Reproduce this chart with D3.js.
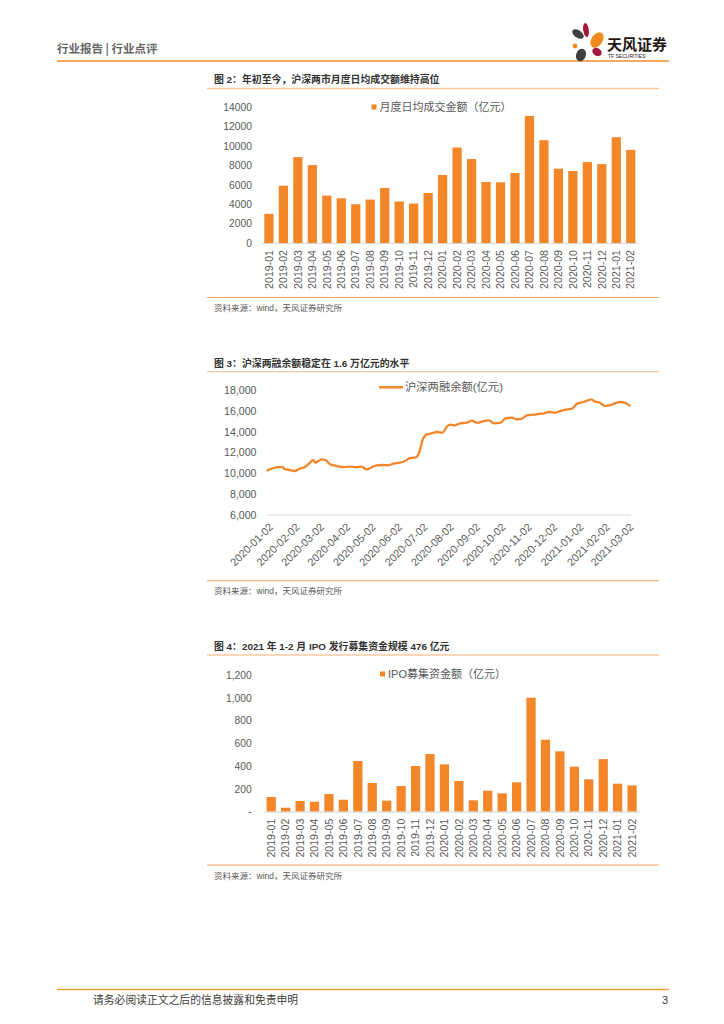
<!DOCTYPE html>
<html>
<head>
<meta charset="utf-8">
<script src="https://cdn.jsdelivr.net/npm/d3@7"></script>
<style>
  body { margin: 0; background: #fff; }
</style>
</head>
<body>
<svg id="page"></svg>
<script>
// ---- data ----
const months = ["2019-01","2019-02","2019-03","2019-04","2019-05","2019-06","2019-07","2019-08","2019-09","2019-10","2019-11","2019-12",
  "2020-01","2020-02","2020-03","2020-04","2020-05","2020-06","2020-07","2020-08","2020-09","2020-10","2020-11","2020-12","2021-01","2021-02"];
const turnover = [3000,5900,8840,8020,4880,4600,3990,4470,5670,4270,4060,5150,7000,9830,8640,6280,6250,7200,13070,10580,7650,7410,8330,8120,10890,9590];
const ipoFunds = [129,35,94,88,155,105,445,252,97,225,401,506,416,269,100,184,161,258,1001,632,530,395,284,462,246,231];

const marginDates = ["2020-01-02","2020-01-08","2020-01-16","2020-01-21","2020-01-23","2020-01-29","2020-02-04","2020-02-10","2020-02-16","2020-02-20",
  "2020-02-26","2020-02-28","2020-03-03","2020-03-07","2020-03-11","2020-03-17","2020-03-25","2020-04-01","2020-04-09","2020-04-17",
  "2020-04-23","2020-04-29","2020-05-05","2020-05-11","2020-05-18","2020-05-24","2020-06-01","2020-06-07","2020-06-13","2020-06-19",
  "2020-06-26","2020-07-01","2020-07-04","2020-07-09","2020-07-13","2020-07-17","2020-07-21","2020-07-27","2020-08-02","2020-08-06",
  "2020-08-11","2020-08-17","2020-08-25","2020-08-31","2020-09-06","2020-09-14","2020-09-20","2020-09-26","2020-10-04","2020-10-09",
  "2020-10-17","2020-10-23","2020-10-29","2020-11-04","2020-11-12","2020-11-18","2020-11-24","2020-11-30","2020-12-07","2020-12-13",
  "2020-12-21","2020-12-27","2021-01-02","2021-01-10","2021-01-15","2021-01-19","2021-01-23","2021-01-29","2021-02-04","2021-02-10",
  "2021-02-18","2021-02-22","2021-02-27","2021-03-03","2021-03-06"];
const marginBalance = [10250,10450,10600,10600,10400,10320,10220,10450,10600,10860,
  11280,11020,11180,11340,11280,10860,10700,10600,10640,10600,
  10640,10380,10580,10770,10800,10770,10960,11020,11180,11470,
  11540,12300,13260,13740,13800,13900,13970,13900,14540,14670,
  14600,14800,14860,15060,14860,15020,15090,14800,14860,15250,
  15340,15180,15250,15570,15630,15700,15760,15890,15820,15980,
  16140,16210,16690,16850,17010,17100,16880,16780,16460,16560,
  16780,16850,16780,16620,16460];
const marginTicks = ["2020-01-02","2020-02-02","2020-03-02","2020-04-02","2020-05-02","2020-06-02","2020-07-02","2020-08-02",
  "2020-09-02","2020-10-02","2020-11-02","2020-12-02","2021-01-02","2021-02-02","2021-03-02"];

// ---- page ----
const W = 724, H = 1024;
const orange = '#F4862A';
const font = '"Liberation Sans", "Noto Sans CJK SC", sans-serif';
const cjk = '"Noto Sans CJK SC", sans-serif';

const svg = d3.select('#page').attr('width', W).attr('height', H);
svg.append('rect').attr('width', W).attr('height', H).attr('fill', '#fff');

// header
svg.append('text').attr('x', 57).attr('y', 53)
  .style('font-family', cjk).style('font-size', '11.5px').style('font-weight', 'bold')
  .attr('fill', '#666').text('行业报告 | 行业点评');
svg.append('line').attr('x1', 57).attr('x2', 669).attr('y1', 61).attr('y2', 61)
  .attr('stroke', '#F08A2A').attr('stroke-width', 1.6);

// logo
const logo = svg.append('g');
const petals = [
  {cx: 578, cy: 34, rx: 6.5, ry: 3.8, rot: 35, c: '#3f3f3f'},
  {cx: 586, cy: 30, rx: 2.8, ry: 7, rot: -8, c: '#A3183B'},
  {cx: 597, cy: 40, rx: 5.5, ry: 8.5, rot: 35, c: '#F08A1E'},
  {cx: 575, cy: 46, rx: 2.4, ry: 2.4, rot: 0, c: '#F08A1E'},
  {cx: 581, cy: 55, rx: 4.8, ry: 6.5, rot: 20, c: '#3f3f3f'},
  {cx: 597, cy: 52, rx: 5, ry: 3.8, rot: 30, c: '#A3183B'}
];
logo.selectAll('ellipse').data(petals).join('ellipse')
  .attr('cx', d => d.cx).attr('cy', d => d.cy).attr('rx', d => d.rx).attr('ry', d => d.ry)
  .attr('transform', d => `rotate(${d.rot},${d.cx},${d.cy})`).attr('fill', d => d.c);
logo.append('text').attr('x', 607).attr('y', 50)
  .style('font-family', cjk).style('font-size', '15px').style('font-weight', 'bold')
  .attr('fill', '#231815').text('天风证券');
logo.append('text').attr('x', 608).attr('y', 58)
  .style('font-family', font).style('font-size', '5px')
  .attr('fill', '#231815').text('TF SECURITIES');

// footer
svg.append('line').attr('x1', 57).attr('x2', 669).attr('y1', 989.5).attr('y2', 989.5)
  .attr('stroke', '#F0A030').attr('stroke-width', 1.6);
svg.append('text').attr('x', 93).attr('y', 1004)
  .style('font-family', cjk).style('font-size', '10.8px').attr('fill', '#404040')
  .text('请务必阅读正文之后的信息披露和免责申明');
svg.append('text').attr('x', 668).attr('y', 1004).attr('text-anchor', 'end')
  .style('font-family', font).style('font-size', '11px').attr('fill', '#404040').text('3');

// figure frame: title, title rule, bottom rule, source
function frame(title, titleY, ruleY, bottomY, sourceY) {
  svg.append('text').attr('x', 214).attr('y', titleY)
    .style('font-family', font).style('font-size', '9.9px').style('font-weight', 'bold')
    .attr('fill', '#333').text(title);
  svg.append('line').attr('x1', 207).attr('x2', 659).attr('y1', ruleY).attr('y2', ruleY)
    .attr('stroke', '#F9C9A0').attr('stroke-width', 1.3);
  svg.append('line').attr('x1', 207).attr('x2', 659).attr('y1', bottomY).attr('y2', bottomY)
    .attr('stroke', '#F2A060').attr('stroke-width', 1);
  svg.append('text').attr('x', 214).attr('y', sourceY)
    .style('font-family', font).style('font-size', '8.5px')
    .attr('fill', '#595959').text('资料来源：wind，天风证券研究所');
}

function styleTicks(sel, size) {
  sel.selectAll('text').attr('fill', '#595959')
    .style('font-family', font).style('font-size', size);
  sel.selectAll('.tick line').remove();
}

function barChart(o) {
  const g = svg.append('g');
  const x = d3.scaleBand().domain(months).range([o.x0, o.x1]).paddingInner(0.36).paddingOuter(0.18);
  const y = d3.scaleLinear().domain([0, o.max]).range([o.yBase, o.yTop]);

  g.selectAll('rect.bar').data(o.values).join('rect').attr('class', 'bar')
    .attr('x', (d, i) => x(months[i])).attr('width', x.bandwidth())
    .attr('y', d => y(d)).attr('height', d => o.yBase - y(d))
    .attr('fill', orange);

  const ya = g.append('g').attr('transform', `translate(${o.labelRight},0)`)
    .call(d3.axisLeft(y).tickValues(d3.range(0, o.max + 1, o.step)).tickFormat(o.fmt).tickSize(0).tickPadding(0));
  ya.select('.domain').remove();
  styleTicks(ya, '10.3px');

  const xa = g.append('g').attr('transform', `translate(0,${o.yBase})`)
    .call(d3.axisBottom(x).tickSize(0).tickPadding(0));
  xa.select('.domain').attr('stroke', '#d9d9d9').attr('stroke-width', 1.2);
  styleTicks(xa, '10.6px');
  xa.selectAll('text').attr('transform', 'rotate(-90)').attr('text-anchor', 'end')
    .attr('x', -7).attr('y', 0).attr('dy', '0.35em');

  // legend
  g.append('rect').attr('x', o.legendX).attr('y', o.legendY - 2.5).attr('width', 5).attr('height', 5).attr('fill', orange);
  g.append('text').attr('x', o.legendX + 8).attr('y', o.legendY).attr('dy', '0.35em')
    .style('font-family', font).style('font-size', '11px').attr('fill', '#595959').text(o.legend);
}

// ---- figure 2 ----
frame('图 2：年初至今，沪深两市月度日均成交额维持高位', 82.5, 88.5, 297.5, 311);
barChart({
  values: turnover, x0: 261.7, x1: 638, yBase: 243, yTop: 107, max: 14000, step: 2000,
  fmt: d3.format('d'), labelRight: 252, legend: '月度日均成交金额（亿元）', legendX: 371.5, legendY: 107
});

// ---- figure 3 ----
frame('图 3：沪深两融余额稳定在 1.6 万亿元的水平', 366.5, 371.7, 580.7, 593.5);
(function () {
  const parse = d3.timeParse('%Y-%m-%d');
  const g = svg.append('g');
  const x = d3.scaleTime().domain([parse('2020-01-02'), parse('2021-03-06')]).range([266.7, 630.5]);
  const y = d3.scaleLinear().domain([6000, 18000]).range([515, 390]);

  const ya = g.append('g').attr('transform', 'translate(256.5,0)')
    .call(d3.axisLeft(y).tickValues(d3.range(6000, 18001, 2000)).tickFormat(d3.format(',')).tickSize(0).tickPadding(0));
  ya.select('.domain').remove();
  styleTicks(ya, '10.6px');

  g.append('line').attr('x1', 266.7).attr('x2', 631).attr('y1', 515).attr('y2', 515)
    .attr('stroke', '#d9d9d9').attr('stroke-width', 1.2);

  const xa = g.append('g').attr('transform', 'translate(0,515)')
    .call(d3.axisBottom(x).tickValues(marginTicks.map(parse)).tickFormat(d3.timeFormat('%Y-%m-%d')).tickSize(0).tickPadding(0));
  xa.select('.domain').remove();
  styleTicks(xa, '10.8px');
  xa.selectAll('text').attr('text-anchor', 'end').attr('x', 0).attr('y', 0).attr('dy', '0.35em')
    .attr('transform', 'translate(4,10) rotate(-45)');

  const line = d3.line().x((d, i) => x(parse(marginDates[i]))).y(d => y(d)).curve(d3.curveMonotoneX);
  g.append('path').datum(marginBalance).attr('d', line)
    .attr('fill', 'none').attr('stroke', orange).attr('stroke-width', 2.3).attr('stroke-linejoin', 'round');

  g.append('line').attr('x1', 379).attr('x2', 403).attr('y1', 387.3).attr('y2', 387.3)
    .attr('stroke', orange).attr('stroke-width', 2.5);
  g.append('text').attr('x', 405).attr('y', 387.3).attr('dy', '0.35em')
    .style('font-family', font).style('font-size', '11.3px').attr('fill', '#595959').text('沪深两融余额(亿元)');
})();

// ---- figure 4 ----
frame('图 4：2021 年 1-2 月 IPO 发行募集资金规模 476 亿元', 649.7, 655, 865, 879);
barChart({
  values: ipoFunds, x0: 264, x1: 639.3, yBase: 811.7, yTop: 675, max: 1200, step: 200,
  fmt: d => d === 0 ? '-' : d3.format(',')(d), labelRight: 251.7,
  legend: 'IPO募集资金额（亿元）', legendX: 380, legendY: 674
});
</script>
</body>
</html>
